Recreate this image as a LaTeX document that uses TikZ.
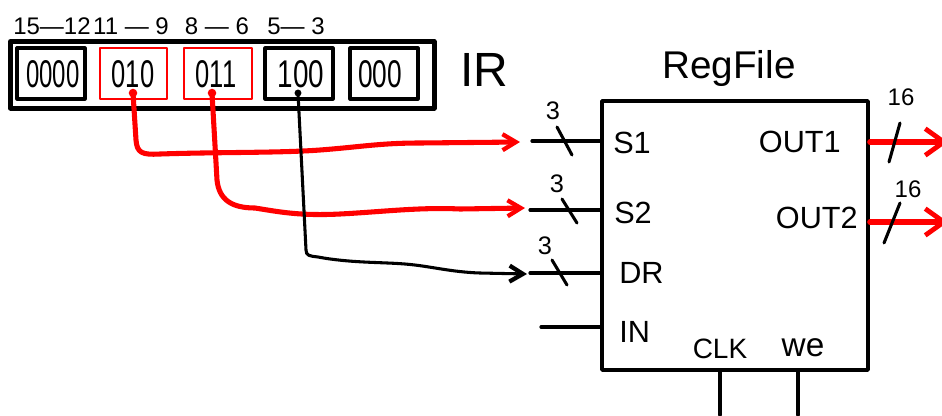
\documentclass[tikz,border=0pt]{standalone}
\usepackage{fontspec}
\setmainfont{Liberation Sans}
\usetikzlibrary{arrows.meta,fit,calc}
\definecolor{pen}{RGB}{255,0,0}
\begin{document}
\begin{tikzpicture}[x=0.75pt,y=-0.75pt,
  line cap=round, line join=round,
  irbox/.style={draw, line width=3.75pt, inner sep=0pt},
  cell/.style={draw, line width=2.4pt, inner sep=0pt},
  redcell/.style={draw=pen, line width=1.9pt, inner sep=0pt},
  celltxt/.style={inner sep=0pt, font=\fontsize{29}{31}\selectfont},
  bitlbl/.style={inner sep=0pt, font=\fontsize{18}{20}\selectfont},
  port/.style={inner sep=0pt, font=\fontsize{23}{25}\selectfont},
  width/.style={inner sep=0pt, font=\fontsize{19}{21}\selectfont},
  title/.style={inner sep=0pt, font=\fontsize{29}{31}\selectfont},
  wire/.style={line width=2.4pt},
  redwire/.style={draw=pen, line width=3.8pt},
  blackwire/.style={line width=2.3pt},
  tipin/.style={-{Straight Barb[length=10pt,width=12pt,line width=3.2pt]}},
  tipout/.style={-{Straight Barb[length=14pt,width=20pt,line width=3.6pt]}},
  slash/.style={line width=2.3pt},
]
\clip (0,0) rectangle (942,415);
\fill[white] (0,0) rectangle (942,415);

% ---------------- IR ----------------
\node[irbox, fit={(10.5,41.5)(434,108)}] (ir) {};
\node[cell, fit={(17,48)(85,99)}] (b1) {};
\node[redcell, fit={(100,48)(167,99)}] (b2) {};
\node[redcell, fit={(184,48)(252,99)}] (b3) {};
\node[cell, fit={(265,48)(333,99)}] (b4) {};
\node[cell, fit={(350,48)(418,99)}] (b5) {};
\node[celltxt] (t1) at (53,74) {\scalebox{0.62}[1]{0000}};
\node[celltxt] (t2) at (133,74) {\scalebox{0.66}[1]{010}};
\node[celltxt] (t3) at (216,74) {\scalebox{0.66}[1]{011}};
\node[celltxt] (t4) at (301,74) {\scalebox{0.72}[1]{100}};
\node[celltxt] (t5) at (380,74) {\scalebox{0.68}[1]{000}};

\node[bitlbl] (l1) at (52,26) {15---12};
\node[bitlbl] (l2) at (131,26) {11 --- 9};
\node[bitlbl] (l3) at (217,26) {8 --- 6};
\node[bitlbl] (l4) at (296,26) {5--- 3};

\node[inner sep=0pt, font=\fontsize{36}{38}\selectfont] (irlbl) at (484,70) {IR};

% ---------------- RegFile ----------------
\node[draw, line width=2.6pt, inner sep=0pt, fit={(602,101)(868,370)}] (rf) {};
\node[title] (rftitle) at (729,68) {RegFile};

\node[port, anchor=west] (ps1) at (613,143) {S1};
\node[port, anchor=west] (ps2) at (614,213) {S2};
\node[port, anchor=west] (pdr) at (619,273) {DR};
\node[port, anchor=west] (pin) at (619,332) {IN};
\node[port, anchor=east] (po1) at (841,142) {OUT1};
\node[port, anchor=east] (po2) at (858,218) {OUT2};
\node[inner sep=0pt, font=\fontsize{21}{23}\selectfont] (pclk) at (720,349) {CLK};
\node[inner sep=0pt, font=\fontsize{25}{27}\selectfont] (pwe) at (803,348) {we};

% input stubs
\coordinate (s1a) at (532,141);
\coordinate (s2a) at (530,210);
\coordinate (dra) at (530,273);
\coordinate (ina) at (541,327);
\draw[wire] (s1a) -- (rf.west |- s1a);
\draw[wire] (s2a) -- (rf.west |- s2a);
\draw[wire] (dra) -- (rf.west |- dra);
\draw[wire] (ina) -- (rf.west |- ina);

% bus-width slashes and labels
\draw[slash] (557,127) -- (572,155);
\node[width] (w1) at (553,111) {3};
\draw[slash] (562,199) -- (577,223);
\node[width] (w2) at (557,184) {3};
\draw[slash] (552,260) -- (567,285);
\node[width] (w3) at (545,246) {3};

% clk / we
\coordinate (clkb) at (720,415);
\coordinate (web) at (798,415);
\draw[wire] (rf.south -| clkb) -- (clkb);
\draw[wire] (rf.south -| web) -- (web);

% outputs
\coordinate (o1) at (948,142);
\coordinate (o2) at (948,222);
\draw[redwire, tipout] (rf.east |- o1) -- (o1);
\draw[redwire, tipout] (rf.east |- o2) -- (o2);
\draw[slash] (900,123) -- (889,162);
\node[bitlbl] (n1) at (901,97) {16};
\draw[slash] (900,203) -- (884,243);
\node[bitlbl] (n2) at (908,189) {16};

% ---------------- wires from IR ----------------
\coordinate (st1) at (133,93);
\coordinate (st2) at (212,93);
\coordinate (st3) at (298,93);
\coordinate (e1) at (520,142);
\coordinate (e2) at (525,208);
\coordinate (e3) at (527,274);

\fill[pen] (st1) circle (3.2pt);
\fill[pen] (st2) circle (3.2pt);
\fill (st3) circle (2.6pt);

\draw[redwire, tipin] (st1) -- (136,140)
  .. controls (137,153) and (142,155) .. (160,154)
  .. controls (220,152) and (280,153) .. (320,150)
  .. controls (360,147) and (380,143) .. (420,143)
  -- (e1);
\draw[redwire, tipin] (st2) -- (217,180)
  .. controls (219,200) and (232,208) .. (255,208)
  .. controls (280,212) and (300,216) .. (340,214)
  .. controls (380,212) and (420,207) .. (460,209)
  -- (e2);
\draw[blackwire, tipin] (st3) -- (306,250)
  .. controls (306,256) and (310,256) .. (318,257)
  .. controls (350,263) and (380,262) .. (405,264)
  .. controls (430,266) and (450,272) .. (480,273)
  -- (e3);
\end{tikzpicture}
\end{document}
